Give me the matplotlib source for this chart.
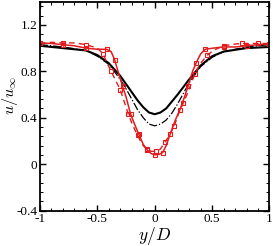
import numpy as np
import matplotlib
matplotlib.use('Agg')
import matplotlib.pyplot as plt
from matplotlib.ticker import MultipleLocator, FuncFormatter

# black solid curve
y_black = [-1.0, -0.8, -0.6, -0.5, -0.4, -0.3, -0.25, -0.2, -0.15, -0.1, -0.05, 0.0,
           0.05, 0.1, 0.15, 0.2, 0.25, 0.3, 0.4, 0.5, 0.6, 0.8, 1.0]
u_black = [1.02, 1.0, 0.98, 0.94, 0.87, 0.76, 0.69, 0.62, 0.55, 0.49, 0.445, 0.43,
           0.445, 0.48, 0.54, 0.60, 0.665, 0.73, 0.85, 0.93, 0.97, 1.0, 1.01]

# black dash-dot curve
y_dashdot = [-1.0, -0.8, -0.6, -0.5, -0.4, -0.3, -0.25, -0.2, -0.15, -0.1, -0.05, 0.0,
             0.05, 0.1, 0.15, 0.2, 0.25, 0.3, 0.4, 0.5, 0.6, 0.8, 1.0]
u_dashdot = [1.03, 1.01, 0.98, 0.93, 0.86, 0.73, 0.65, 0.56, 0.47, 0.40, 0.345, 0.33,
             0.345, 0.38, 0.44, 0.52, 0.61, 0.70, 0.84, 0.92, 0.97, 1.01, 1.03]

# red solid with squares
y_red = [-1.0, -0.9, -0.8, -0.7, -0.6, -0.5, -0.42, -0.38, -0.35, -0.32, -0.28, -0.25,
         -0.21, -0.17, -0.14, -0.1, -0.065, -0.03, 0.0, 0.04, 0.07, 0.1, 0.135, 0.18,
         0.22, 0.26, 0.29, 0.33, 0.36, 0.4, 0.44, 0.51, 0.6, 0.7, 0.8, 0.9, 1.0]
u_red = [1.045, 1.04, 1.03, 1.02, 1.0, 0.99, 0.99, 0.97, 0.90, 0.80, 0.67, 0.58,
         0.43, 0.33, 0.26, 0.17, 0.12, 0.09, 0.08, 0.085, 0.10, 0.16, 0.26, 0.38,
         0.47, 0.58, 0.67, 0.80, 0.87, 0.95, 0.99, 1.0, 1.01, 1.01, 1.02, 1.03, 1.035]

# red dashed with squares
y_red_dash = [-1.0, -0.9, -0.8, -0.7, -0.6, -0.5, -0.45, -0.42, -0.38, -0.34, -0.3, -0.27,
              -0.23, -0.19, -0.15, -0.11, -0.07, -0.03, 0.01, 0.05, 0.09, 0.13, 0.17, 0.21,
              0.25, 0.29, 0.35, 0.4, 0.46, 0.51, 0.6, 0.7, 0.76, 0.85, 0.9, 1.0]
u_red_dash = [1.04, 1.05, 1.045, 1.045, 1.03, 1.0, 0.95, 0.88, 0.80, 0.72, 0.64, 0.55,
              0.43, 0.33, 0.25, 0.17, 0.13, 0.11, 0.11, 0.13, 0.19, 0.25, 0.33, 0.44,
              0.53, 0.62, 0.78, 0.87, 0.94, 0.98, 1.02, 1.035, 1.04, 1.04, 1.04, 1.04]

red = '#e31a1c'

plt.rcParams['font.family'] = ['Liberation Serif', 'DejaVu Serif']
plt.rcParams['mathtext.fontset'] = 'cm'
plt.rcParams['axes.unicode_minus'] = False

fig = plt.figure(figsize=(2.73, 2.46), dpi=100)
ax = fig.add_axes([0.1465, 0.1443, 0.987 - 0.1465, 0.993 - 0.1443])

ax.plot(y_black, u_black, '-', color='k', lw=1.5)
ax.plot(y_dashdot, u_dashdot, '-.', color='k', lw=0.9)
ax.plot(y_red, u_red, '-', color=red, lw=1.1, marker='s', ms=3, mfc='none',
        mec=red, mew=0.8, markevery=2)
ax.plot(y_red_dash, u_red_dash, '--', color=red, lw=1.0, dashes=(4, 3), marker='s', ms=3,
        mfc='none', mec=red, mew=0.8, markevery=2)

ax.set_xlim(-1, 1)
ax.set_ylim(-0.4, 1.4)
ax.xaxis.set_major_locator(MultipleLocator(0.5))
ax.xaxis.set_minor_locator(MultipleLocator(0.1))
ax.yaxis.set_major_locator(MultipleLocator(0.4))
ax.yaxis.set_minor_locator(MultipleLocator(0.08))
fmt = FuncFormatter(lambda v, p: '{:g}'.format(round(v, 2)) if v < 1.3 else '')
ax.xaxis.set_major_formatter(FuncFormatter(lambda v, p: '{:g}'.format(round(v, 2))))
ax.yaxis.set_major_formatter(fmt)
ax.tick_params(which='both', direction='in', top=True, right=True, labelsize=9.5, width=1.0)
ax.tick_params(which='major', length=4.5, pad=2)
ax.tick_params(which='minor', length=2.2, width=0.7)
for s in ax.spines.values():
    s.set_linewidth(1.3)

ax.set_xlabel('$y/D$', fontsize=12.5, labelpad=0)
ax.set_ylabel('$u/u_{\\infty}$', fontsize=11.5)
ax.yaxis.set_label_coords(-0.085, 0.55)

fig.savefig('out.png', dpi=100)
